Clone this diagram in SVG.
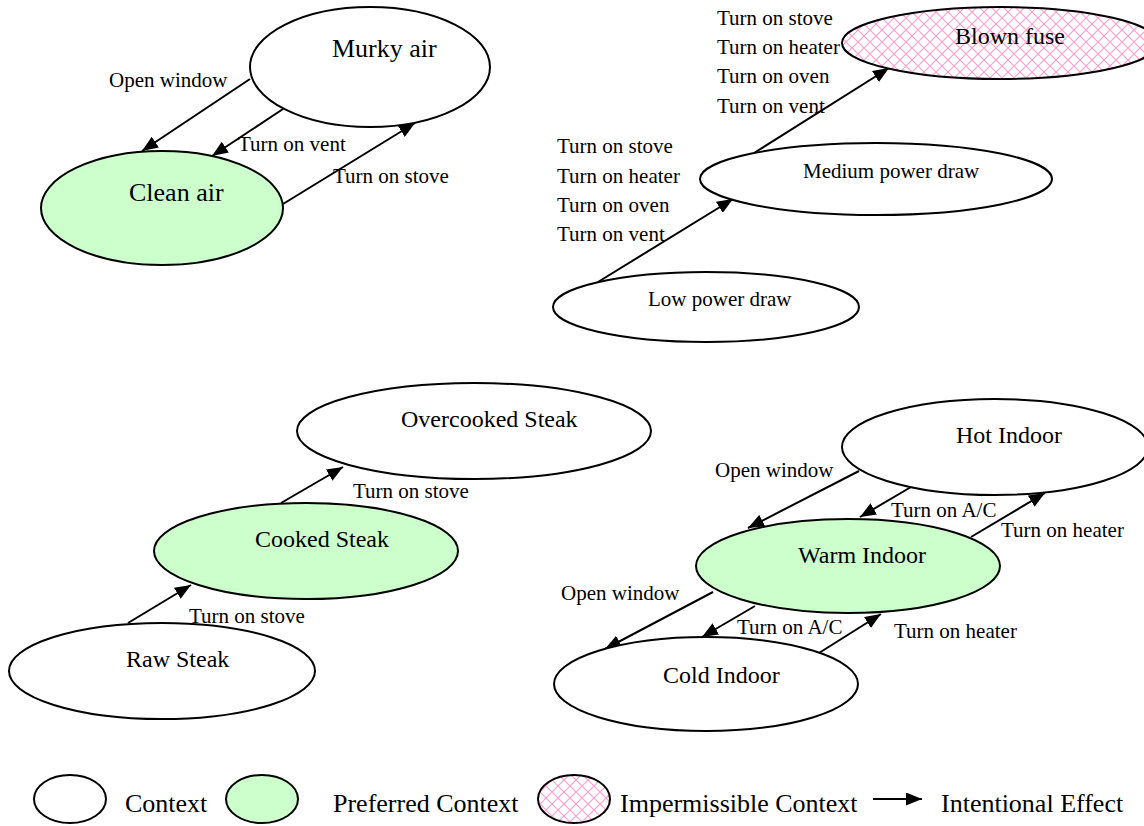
<svg xmlns="http://www.w3.org/2000/svg" width="1144" height="826" viewBox="0 0 1144 826">
<style>
.node{stroke:#000;stroke-width:2;fill:#fff}
.pref{fill:#ccffcc}
.imp{fill:url(#hatch)}
.nl{font-family:"Liberation Serif","Times New Roman",serif;fill:#000}
.el{font-family:"Liberation Serif","Times New Roman",serif;font-size:21px;fill:#000}
.edge{stroke:#000;stroke-width:2;fill:none;marker-end:url(#arr)}
</style>
<defs>
<pattern id="hatch" patternUnits="userSpaceOnUse" width="12" height="12">
<rect width="12" height="12" fill="#fff"/>
<path d="M0,0 L12,12 M12,0 L0,12" stroke="#ff9fcc" stroke-width="1.2"/>
</pattern>
<marker id="arr" markerUnits="userSpaceOnUse" markerWidth="16" markerHeight="13" refX="16" refY="6.5" orient="auto">
<path d="M0,0 L16,6.5 L0,13 z" fill="#000"/>
</marker>
</defs>
<rect width="1144" height="826" fill="#fff"/>

<g id="connectors">
<line class="edge" x1="250" y1="79" x2="142" y2="151"/>
<line class="edge" x1="283" y1="109" x2="212" y2="156"/>
<line class="edge" x1="283" y1="204" x2="415" y2="123"/>
<line class="edge" x1="598" y1="282" x2="733" y2="199"/>
<line class="edge" x1="754" y1="153" x2="889" y2="68"/>
<line class="edge" x1="128" y1="623" x2="191" y2="585"/>
<line class="edge" x1="281" y1="503" x2="343" y2="467"/>
<line class="edge" x1="859" y1="471" x2="748" y2="528"/>
<line class="edge" x1="911" y1="487" x2="860" y2="517"/>
<line class="edge" x1="971" y1="537" x2="1045" y2="493"/>
<line class="edge" x1="713" y1="592" x2="605" y2="649"/>
<line class="edge" x1="755" y1="606" x2="702" y2="637"/>
<line class="edge" x1="819" y1="653" x2="881" y2="614"/>
</g>

<g id="edge-labels">
<text class="el" x="109" y="87">Open window</text>
<text class="el" x="238" y="151">Turn on vent</text>
<text class="el" x="333" y="183">Turn on stove</text>
<text class="el" x="717" y="25">Turn on stove</text>
<text class="el" x="717" y="54">Turn on heater</text>
<text class="el" x="717" y="83">Turn on oven</text>
<text class="el" x="717" y="113">Turn on vent</text>
<text class="el" x="557" y="153">Turn on stove</text>
<text class="el" x="557" y="183">Turn on heater</text>
<text class="el" x="557" y="212">Turn on oven</text>
<text class="el" x="557" y="241">Turn on vent</text>
<text class="el" x="353" y="498">Turn on stove</text>
<text class="el" x="189" y="623">Turn on stove</text>
<text class="el" x="715" y="477">Open window</text>
<text class="el" x="891" y="517">Turn on A/C</text>
<text class="el" x="1001" y="537">Turn on heater</text>
<text class="el" x="561" y="600">Open window</text>
<text class="el" x="737" y="634">Turn on A/C</text>
<text class="el" x="894" y="638">Turn on heater</text>
</g>

<g id="murky-air">
<ellipse class="node" cx="370" cy="67" rx="120" ry="60"/>
<text class="nl" x="332" y="57" font-size="26">Murky air</text>
</g>
<g id="clean-air">
<ellipse class="node pref" cx="162" cy="208" rx="121" ry="57"/>
<text class="nl" x="129" y="201" font-size="26">Clean air</text>
</g>
<g id="blown-fuse">
<ellipse class="node imp" cx="1000" cy="43" rx="158" ry="36"/>
<text class="nl" x="955" y="44" font-size="24">Blown fuse</text>
</g>
<g id="medium-power">
<ellipse class="node" cx="876" cy="179" rx="176" ry="36"/>
<text class="nl" x="803" y="178" font-size="21">Medium power draw</text>
</g>
<g id="low-power">
<ellipse class="node" cx="706" cy="307" rx="153" ry="35"/>
<text class="nl" x="648" y="306" font-size="21">Low power draw</text>
</g>
<g id="overcooked-steak">
<ellipse class="node" cx="474" cy="431" rx="177" ry="48"/>
<text class="nl" x="401" y="427" font-size="24">Overcooked Steak</text>
</g>
<g id="cooked-steak">
<ellipse class="node pref" cx="306" cy="551" rx="152" ry="48"/>
<text class="nl" x="255" y="547" font-size="24">Cooked Steak</text>
</g>
<g id="raw-steak">
<ellipse class="node" cx="162" cy="671" rx="153" ry="48"/>
<text class="nl" x="126" y="667" font-size="24">Raw Steak</text>
</g>
<g id="hot-indoor">
<ellipse class="node" cx="995" cy="447" rx="153" ry="48"/>
<text class="nl" x="956" y="443" font-size="24">Hot Indoor</text>
</g>
<g id="warm-indoor">
<ellipse class="node pref" cx="848" cy="566" rx="152" ry="47"/>
<text class="nl" x="798" y="563" font-size="24">Warm Indoor</text>
</g>
<g id="cold-indoor">
<ellipse class="node" cx="706" cy="684" rx="152" ry="47"/>
<text class="nl" x="663" y="683" font-size="24">Cold Indoor</text>
</g>

<g id="legend">
<ellipse class="node" cx="70" cy="799" rx="36" ry="24"/>
<text class="nl" x="125" y="812" font-size="26">Context</text>
<ellipse class="node pref" cx="262" cy="799" rx="36" ry="24"/>
<text class="nl" x="333" y="812" font-size="26">Preferred Context</text>
<ellipse class="node imp" cx="574" cy="799" rx="36" ry="24"/>
<text class="nl" x="620" y="812" font-size="26">Impermissible Context</text>
<line class="edge" x1="873" y1="799" x2="922" y2="799"/>
<text class="nl" x="941" y="812" font-size="26">Intentional Effect</text>
</g>
</svg>
